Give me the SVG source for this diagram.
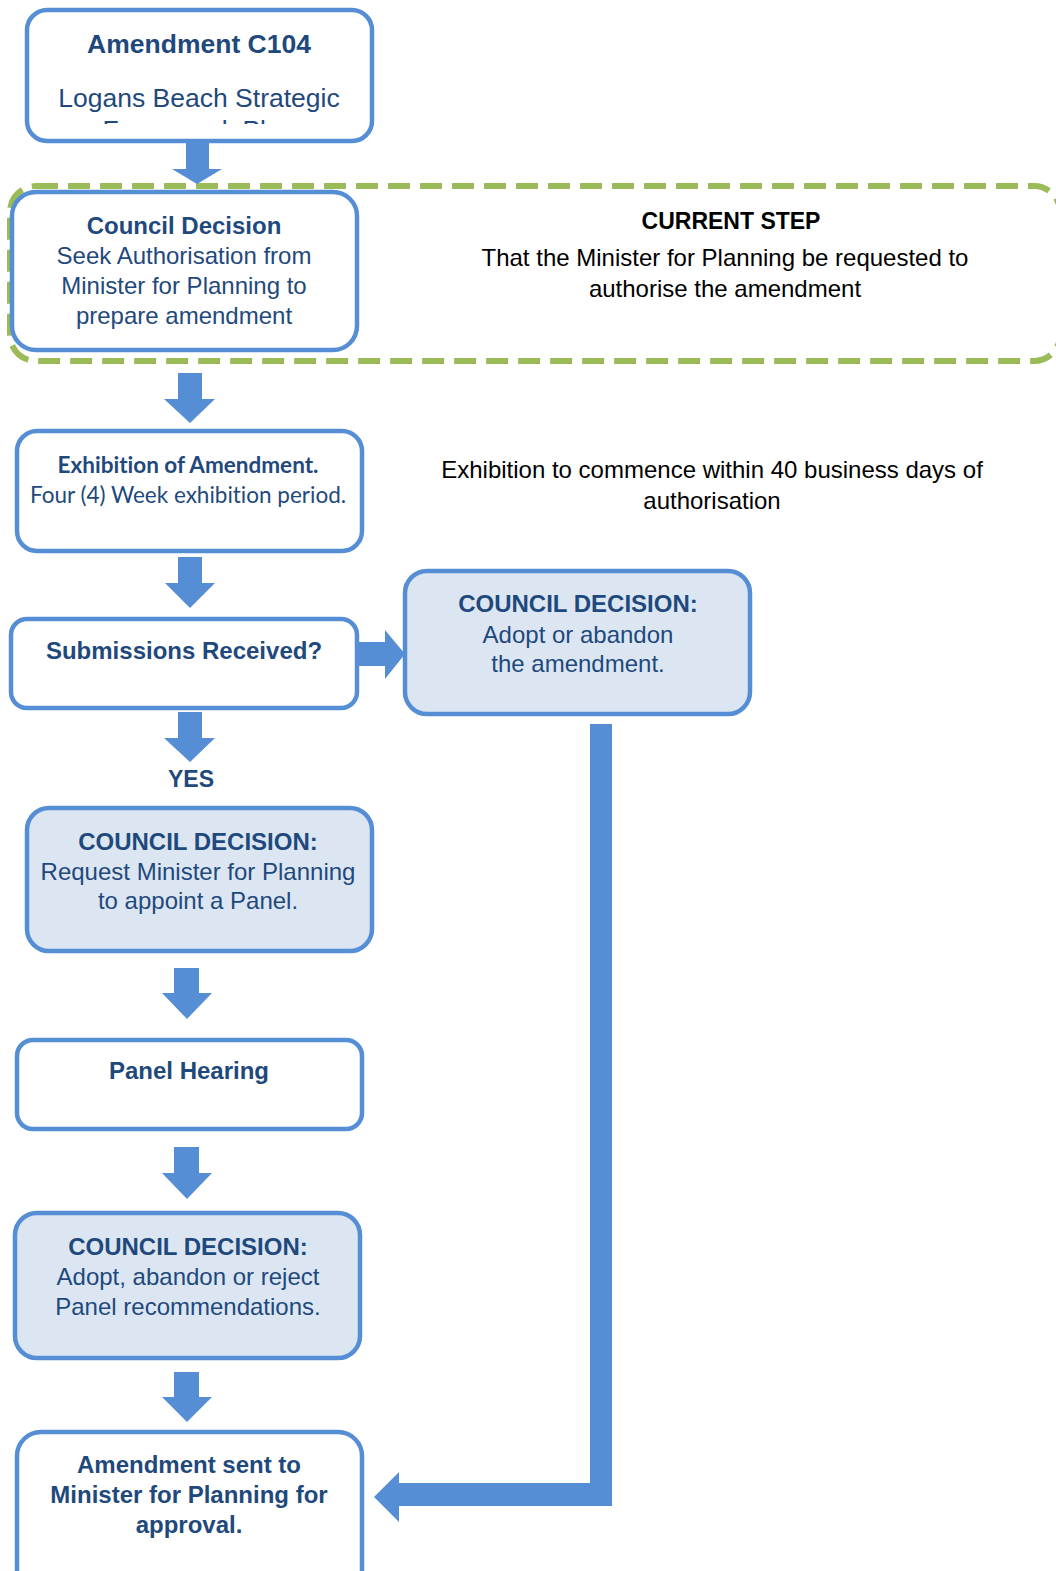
<svg xmlns="http://www.w3.org/2000/svg" width="1056" height="1571" viewBox="0 0 1056 1571">
<defs>
<style>
.box{fill:#ffffff;stroke:#558ED5;stroke-width:4.5}
.dec{fill:#DCE6F2;stroke:#558ED5;stroke-width:4.5}
.t{font-family:"Liberation Sans",Arial,sans-serif;font-size:24px;fill:#1F497D;text-anchor:middle}
.b{font-weight:bold}
.k{fill:#000000}
.c{font-family:Lato,"Open Sans",sans-serif;font-size:22.5px;fill:#1F497D;text-anchor:middle;font-variant-ligatures:none}
.arr{fill:#558ED5}
</style>
<clipPath id="clip1"><rect x="27" y="10" width="345" height="114"/></clipPath>
</defs>
<rect x="10" y="186" width="1050" height="175" rx="26" fill="none" stroke="#9BBB59" stroke-width="6" stroke-dasharray="22 10"/>
<g id="connectors">
<polygon class="arr" points="186,141 209,141 209,169 222,169 197,184 172,169 186,169"/>
<polygon class="arr" points="178,373 202,373 202,399 215,399 190,423 164,399 178,399"/>
<polygon class="arr" points="178,557 202,557 202,583 215,583 190,608 165,583 178,583"/>
<polygon class="arr" points="357,642 385,642 385,630 405,654 385,679 385,666 357,666"/>
<polygon class="arr" points="178,712 202,712 202,738 215,738 190,762 164,738 178,738"/>
<polygon class="arr" points="174,968 199,968 199,993 212,993 187,1019 162,993 174,993"/>
<polygon class="arr" points="174,1147 199,1147 199,1173 212,1173 187,1199 162,1173 174,1173"/>
<polygon class="arr" points="174,1372 199,1372 199,1397 212,1397 187,1422 162,1397 174,1397"/>
<polygon class="arr" points="590,724 612,724 612,1506 399,1506 399,1522 374,1497 399,1472 399,1483 590,1483"/>
</g>
<g id="n1">
<rect class="box" x="27" y="10" width="345" height="131" rx="20"/>
<text class="t b" x="199" y="53" style="font-size:26.5px">Amendment C104</text>
<g clip-path="url(#clip1)">
<text class="t" x="199" y="107" style="font-size:26.5px">Logans Beach Strategic</text>
<text class="t" x="199" y="139" style="font-size:26.5px">Framework Plan</text>
</g>
</g>
<g id="n2">
<rect class="box" x="12" y="192" width="345" height="158" rx="24"/>
<text class="t b" x="184" y="234">Council Decision</text>
<text class="t" x="184" y="264">Seek Authorisation from</text>
<text class="t" x="184" y="294">Minister for Planning to</text>
<text class="t" x="184" y="324">prepare amendment</text>
</g>
<g id="current">
<text class="t b k" x="731" y="229" style="font-size:23px">CURRENT STEP</text>
<text class="t k" x="725" y="266">That the Minister for Planning be requested to</text>
<text class="t k" x="725" y="297">authorise the amendment</text>
</g>
<g id="n3">
<rect class="box" x="17" y="431" width="345" height="120" rx="20"/>
<text class="c b" x="188" y="473">Exhibition of Amendment.</text>
<text class="c" x="188" y="503">Four (4) Week exhibition period.</text>
</g>
<g id="note3">
<text class="t k" x="712" y="478">Exhibition to commence within 40 business days of</text>
<text class="t k" x="712" y="509">authorisation</text>
</g>
<g id="n4">
<rect class="box" x="11" y="619" width="346" height="89" rx="16"/>
<text class="t b" x="184" y="659">Submissions Received?</text>
</g>
<g id="n5">
<rect class="dec" x="405" y="571" width="345" height="143" rx="22"/>
<text class="t b" x="578" y="612">COUNCIL DECISION:</text>
<text class="t" x="578" y="643">Adopt or abandon</text>
<text class="t" x="578" y="672">the amendment.</text>
</g>
<text class="t b" x="191" y="787" style="font-size:23px">YES</text>
<g id="n6">
<rect class="dec" x="27" y="808" width="345" height="143" rx="22"/>
<text class="t b" x="198" y="850">COUNCIL DECISION:</text>
<text class="t" x="198" y="880">Request Minister for Planning</text>
<text class="t" x="198" y="909">to appoint a Panel.</text>
</g>
<g id="n7">
<rect class="box" x="17" y="1040" width="345" height="89" rx="16"/>
<text class="t b" x="189" y="1079">Panel Hearing</text>
</g>
<g id="n8">
<rect class="dec" x="15" y="1213" width="345" height="145" rx="22"/>
<text class="t b" x="188" y="1255">COUNCIL DECISION:</text>
<text class="t" x="188" y="1285">Adopt, abandon or reject</text>
<text class="t" x="188" y="1315">Panel recommendations.</text>
</g>
<g id="n9">
<rect class="box" x="17" y="1432" width="345" height="170" rx="24"/>
<text class="t b" x="189" y="1473">Amendment sent to</text>
<text class="t b" x="189" y="1503">Minister for Planning for</text>
<text class="t b" x="189" y="1533">approval.</text>
</g>
</svg>
